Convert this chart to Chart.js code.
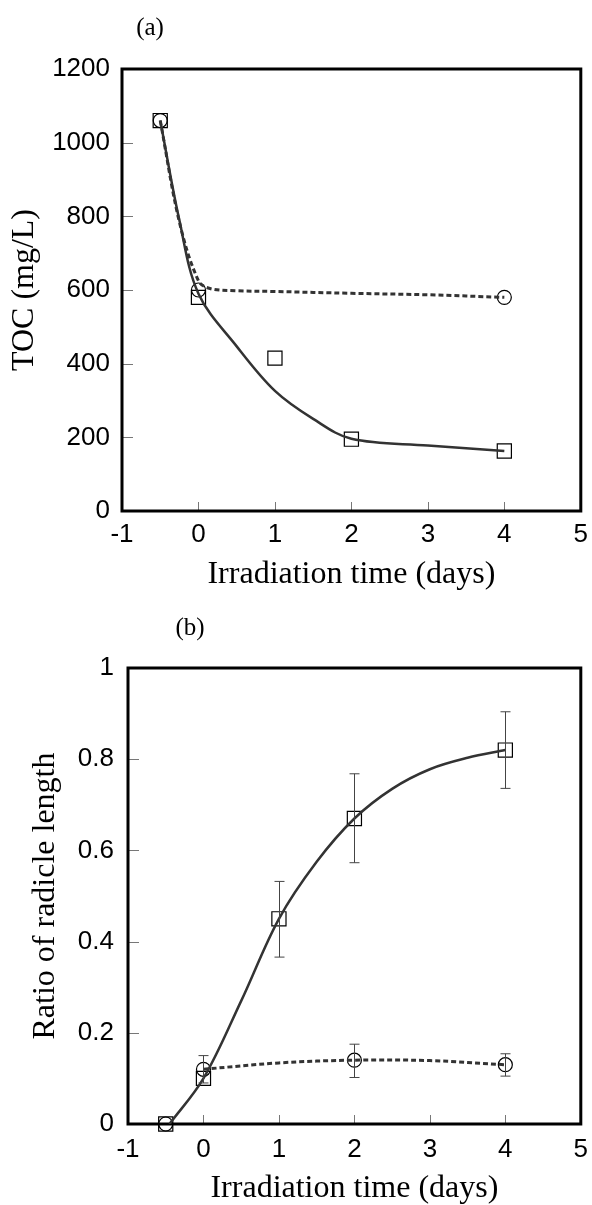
<!DOCTYPE html>
<html lang="en">
<head>
    <meta charset="UTF-8">
    <title>TOC and radicle length vs irradiation time</title>
    <style>
        body { margin: 0; background: #fff; }
        #wrap { position: relative; width: 592px; height: 1205px; }
        canvas { position: absolute; left: 0; }
    </style>
</head>
<body>
<div id="wrap">
    <canvas id="chartA" width="592" height="600" style="top:0"></canvas>
    <canvas id="chartB" width="592" height="605" style="top:600px"></canvas>
</div>

<script src="https://cdn.jsdelivr.net/npm/chart.js"></script>
<script>
    // axis ticks
    const xTicks = [-1, 0, 1, 2, 3, 4, 5];
    const xTitle = 'Irradiation time (days)';

    // (a) TOC
    const squaresAx = [-0.5, 0, 1, 2, 4];
    const squaresAy = [1060, 580, 415, 195, 163];
    const circlesAx = [-0.5, 0, 4];
    const circlesAy = [1060, 600, 580];
    // fitted curves
    const solidAx = [-0.5, -0.25, 0, 0.5, 1, 1.5, 2, 3, 4];
    const solidAy = [1060, 790, 590, 447, 326, 250, 196, 178, 163];
    const dashedAx = [-0.5, -0.25, 0, 0.15, 0.5, 1, 2, 3, 4];
    const dashedAy = [1060, 785, 625, 604, 598, 596, 591, 587, 580];

    // (b) radicle length ratio
    const squaresBx = [-0.5, 0, 1, 2, 4];
    const squaresBy = [0, 0.1, 0.45, 0.67, 0.82];
    const squaresBlo = [null, null, 0.366, 0.573, 0.736];
    const squaresBhi = [null, null, 0.532, 0.768, 0.904];
    const circlesBx = [-0.5, 0, 2, 4];
    const circlesBy = [0, 0.12, 0.14, 0.13];
    const circlesBlo = [null, 0.09, 0.102, 0.105];
    const circlesBhi = [null, 0.15, 0.175, 0.154];
    const solidBx = [-0.45, 0, 0.5, 1, 1.5, 2, 2.5, 3, 3.5, 4];
    const solidBy = [0, 0.1, 0.27, 0.45, 0.575, 0.67, 0.735, 0.778, 0.803, 0.82];
    const dashedBx = [0, 1, 2, 3, 4];
    const dashedBy = [0.12, 0.134, 0.14, 0.139, 0.13];

    const pts = (xs, ys) => xs.map((x, i) => ({ x: x, y: ys[i] }));

    function curve(xs, ys, dashed) {
        return {
            data: pts(xs, ys), showLine: true, pointRadius: 0,
            borderColor: '#333', borderWidth: dashed ? 3 : 2.5,
            borderDash: dashed ? [5, 3] : [], tension: 0.35
        };
    }
    function marks(xs, ys, style, r, lo, hi) {
        return {
            data: pts(xs, ys), showLine: false, pointStyle: style, pointRadius: r,
            pointBorderColor: '#000', pointBackgroundColor: 'rgba(0,0,0,0)',
            pointBorderWidth: 1.2, clip: false, errLo: lo, errHi: hi
        };
    }

    // frame, inward ticks, error bars, panel label
    const decor = {
        id: 'decor',
        beforeDatasetsDraw(chart) {
            const { ctx, chartArea: a, scales } = chart;
            ctx.save();
            ctx.strokeStyle = '#777';
            ctx.lineWidth = 1;
            scales.y.ticks.forEach(t => {
                if (t.value === scales.y.min || t.value === scales.y.max) return;
                const y = Math.round(scales.y.getPixelForValue(t.value)) + 0.5;
                ctx.beginPath(); ctx.moveTo(a.left, y); ctx.lineTo(a.left + 11, y); ctx.stroke();
            });
            scales.x.ticks.forEach(t => {
                if (t.value === scales.x.min || t.value === scales.x.max) return;
                const x = Math.round(scales.x.getPixelForValue(t.value)) + 0.5;
                ctx.beginPath(); ctx.moveTo(x, a.bottom); ctx.lineTo(x, a.bottom - 9); ctx.stroke();
            });
            ctx.strokeStyle = '#000';
            ctx.lineWidth = 3;
            ctx.strokeRect(a.left, a.top, a.right - a.left, a.bottom - a.top);
            ctx.restore();
        },
        afterDatasetsDraw(chart, args, opts) {
            const { ctx, scales } = chart;
            ctx.save();
            ctx.strokeStyle = '#444';
            ctx.lineWidth = 1;
            chart.data.datasets.forEach(ds => {
                if (!ds.errLo) return;
                ds.data.forEach((p, i) => {
                    if (ds.errLo[i] == null) return;
                    const x = Math.round(scales.x.getPixelForValue(p.x)) + 0.5;
                    const y1 = scales.y.getPixelForValue(ds.errLo[i]);
                    const y2 = scales.y.getPixelForValue(ds.errHi[i]);
                    ctx.beginPath();
                    ctx.moveTo(x, y1); ctx.lineTo(x, y2);
                    ctx.moveTo(x - 5, y1); ctx.lineTo(x + 5, y1);
                    ctx.moveTo(x - 5, y2); ctx.lineTo(x + 5, y2);
                    ctx.stroke();
                });
            });
            ctx.fillStyle = '#000';
            ctx.font = '25px "Liberation Serif"';
            ctx.textAlign = 'center';
            ctx.textBaseline = 'middle';
            ctx.fillText(opts.label, opts.lx, opts.ly);
            ctx.restore();
        }
    };

    const fmt = v => String(Math.round(v * 1000) / 1000);

    function makeChart(id, datasets, yMin, yMax, yStep, yTitle, cfg) {
        const tickFont = { family: '"Liberation Sans", Arial', size: 26 };
        const titleFont = { family: '"Liberation Serif", "Times New Roman"', size: 32, lineHeight: 1 };
        return new Chart(document.getElementById(id), {
            type: 'scatter',
            data: { datasets: datasets },
            plugins: [decor],
            options: {
                responsive: false,
                animation: false,
                devicePixelRatio: 1,
                layout: { padding: { top: cfg.top, right: 8, left: 0, bottom: 0 } },
                plugins: {
                    legend: { display: false },
                    tooltip: { enabled: false },
                    decor: { label: cfg.label, lx: cfg.lx, ly: cfg.ly }
                },
                scales: {
                    x: {
                        type: 'linear', min: -1, max: 5,
                        afterBuildTicks: s => { s.ticks = xTicks.map(v => ({ value: v })); },
                        ticks: { color: '#000', font: tickFont, padding: cfg.xtickPad, maxRotation: 0, callback: fmt },
                        grid: { display: false, drawTicks: false },
                        border: { display: false },
                        title: { display: true, text: xTitle, color: '#000', font: titleFont, padding: { top: 0, bottom: cfg.xtPad } },
                        afterFit: s => { s.height = cfg.xh; s.paddingLeft = 0; s.paddingRight = 0; }
                    },
                    y: {
                        min: yMin, max: yMax,
                        ticks: { stepSize: yStep, color: '#000', font: tickFont, padding: cfg.ytickPad, callback: fmt },
                        grid: { display: false, drawTicks: false },
                        border: { display: false },
                        title: { display: true, text: yTitle, color: '#000', font: titleFont, padding: { top: cfg.ytPad, bottom: 0 } },
                        afterFit: s => { s.width = cfg.yw; s.paddingTop = 0; s.paddingBottom = 0; }
                    }
                }
            }
        });
    }

    makeChart('chartA', [
        curve(solidAx, solidAy, false),
        curve(dashedAx, dashedAy, true),
        marks(squaresAx, squaresAy, 'rect', 10),
        marks(circlesAx, circlesAy, 'circle', 7)
    ], 0, 1200, 200, 'TOC (mg/L)',
        { top: 69, xh: 89, yw: 122, xtPad: 9, xtickPad: 8, ytPad: 9, ytickPad: 12, label: '(a)', lx: 150, ly: 28 });

    makeChart('chartB', [
        curve(solidBx, solidBy, false),
        curve(dashedBx, dashedBy, true),
        marks(squaresBx, squaresBy, 'rect', 10, squaresBlo, squaresBhi),
        marks(circlesBx, circlesBy, 'circle', 7, circlesBlo, circlesBhi)
    ], 0, 1, 0.2, 'Ratio of radicle length',
        { top: 68, xh: 81, yw: 128, xtPad: 0, xtickPad: 10, ytPad: 30, ytickPad: 14, label: '(b)', lx: 190, ly: 28 });
</script>
</body>
</html>
